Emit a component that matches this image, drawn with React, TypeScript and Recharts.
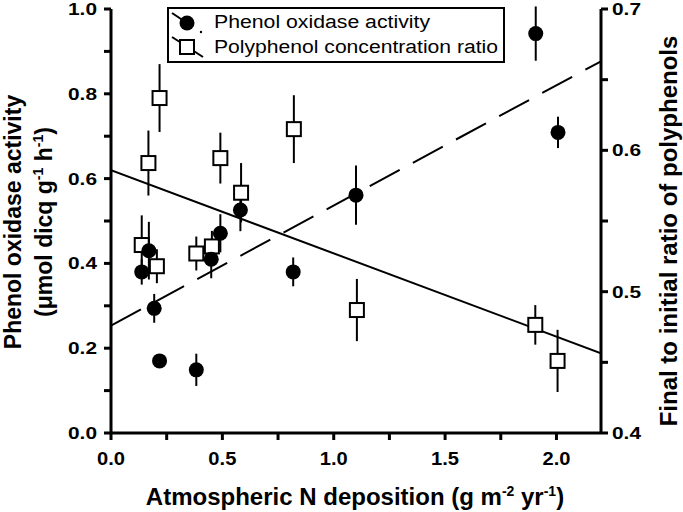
import React from 'react';
import { ComposedChart, Scatter, Line, XAxis, YAxis, ErrorBar, Legend } from 'recharts';

// Phenol oxidase activity (left axis)
const phenolDeposition = [0.138, 0.17, 0.194, 0.218, 0.383, 0.45, 0.491, 0.581, 0.818, 1.1, 1.907, 2.007];
const phenolActivity = [0.38, 0.43, 0.294, 0.17, 0.149, 0.41, 0.471, 0.526, 0.38, 0.561, 0.942, 0.709];
const phenolError = [0.03, 0.068, 0.034, 0.01, 0.038, 0.045, 0.045, 0.05, 0.034, 0.07, 0.064, 0.037];

// Polyphenol concentration ratio (right axis)
const polyDeposition = [0.138, 0.168, 0.206, 0.218, 0.383, 0.453, 0.491, 0.584, 0.821, 1.104, 1.905, 2.005];
const polyRatio = [0.533, 0.591, 0.518, 0.637, 0.527, 0.532, 0.5945, 0.57, 0.615, 0.487, 0.4765, 0.451];
const polyError = [0.021, 0.023, 0.012, 0.024, 0.012, 0.011, 0.018, 0.021, 0.024, 0.022, 0.014, 0.022];

// Regression lines
const phenolFitX = [0, 2.2];
const phenolFitY = [0.62, 0.188];
const polyFitX = [0, 2.2];
const polyFitY = [0.476, 0.663];

// Ticks
const xTicks = [0, 0.25, 0.5, 0.75, 1.0, 1.25, 1.5, 1.75, 2.0];
const xTickLabels = ['0.0', '', '0.5', '', '1.0', '', '1.5', '', '2.0'];
const leftTicks = [0, 0.1, 0.2, 0.3, 0.4, 0.5, 0.6, 0.7, 0.8, 0.9, 1.0];
const leftTickLabels = ['0.0', '', '0.2', '', '0.4', '', '0.6', '', '0.8', '', '1.0'];
const rightTicks = [0.4, 0.45, 0.5, 0.55, 0.6, 0.65, 0.7];
const rightTickLabels = ['0.4', '', '0.5', '', '0.6', '', '0.7'];

const legendLabels = ['Phenol oxidase activity', 'Polyphenol concentration ratio'];

const FONT = "'Liberation Sans', Arial, Helvetica, sans-serif";

const phenolData = phenolDeposition.map((x, i) => ({ x, y: phenolActivity[i], err: phenolError[i] }));
const polyData = polyDeposition.map((x, i) => ({ x, y: polyRatio[i], err: polyError[i] }));
const phenolFit = phenolFitX.map((x, i) => ({ x, y: phenolFitY[i] }));
const polyFit = polyFitX.map((x, i) => ({ x, y: polyFitY[i] }));

const XTick = (props: any) => {
  const label = xTickLabels[props.index];
  if (!label) return <g />;
  return (
    <text x={props.x} y={props.y} dy={23} textAnchor="middle" fontFamily={FONT} fontWeight="bold" fontSize={18}
      fill="#000" textLength={28} lengthAdjust="spacingAndGlyphs">{label}</text>
  );
};

const LeftTick = (props: any) => {
  const label = leftTickLabels[props.index];
  if (!label) return <g />;
  return (
    <text x={props.x} y={props.y} dy={6} textAnchor="end" fontFamily={FONT} fontWeight="bold" fontSize={17}
      fill="#000" textLength={29} lengthAdjust="spacingAndGlyphs">{label}</text>
  );
};

const RightTick = (props: any) => {
  const label = rightTickLabels[props.index];
  if (!label) return <g />;
  return (
    <text x={props.x} y={props.y} dy={6} textAnchor="start" fontFamily={FONT} fontWeight="bold" fontSize={17}
      fill="#000" textLength={29} lengthAdjust="spacingAndGlyphs">{label}</text>
  );
};

const XTitle = () => (
  <text x={355} y={505} textAnchor="middle" fontFamily={FONT} fontWeight="bold" fontSize={24} fill="#000">
    Atmospheric N deposition (g m<tspan dy={-9} fontSize={14}>-2</tspan>
    <tspan dy={9}> yr</tspan><tspan dy={-9} fontSize={14}>-1</tspan><tspan dy={9}>)</tspan>
  </text>
);

const LeftTitle = () => (
  <g>
    <text x={21} y={222} transform="rotate(-90, 21, 222)" textAnchor="middle" fontFamily={FONT} fontWeight="bold"
      fontSize={23} fill="#000">Phenol oxidase activity</text>
    <text x={52} y={222} transform="rotate(-90, 52, 222)" textAnchor="middle" fontFamily={FONT} fontWeight="bold"
      fontSize={23} fill="#000">
      (μmol dicq g<tspan dy={-9} fontSize={14}>-1</tspan><tspan dy={9}> h</tspan>
      <tspan dy={-9} fontSize={14}>-1</tspan><tspan dy={9}>)</tspan>
    </text>
  </g>
);

const RightTitle = () => (
  <text x={677} y={231} transform="rotate(-90, 677, 231)" textAnchor="middle" fontFamily={FONT} fontWeight="bold"
    fontSize={24} fill="#000">Final to initial ratio of polyphenols</text>
);

const LegendBox = () => (
  <svg width={338} height={56} style={{ display: 'block' }}>
    <rect x={1} y={1} width={336} height={54} fill="#fff" stroke="#000" strokeWidth={2} />
    <line x1={5} y1={6} x2={20} y2={16} stroke="#000" strokeWidth={2} />
    <circle cx={34} cy={25} r={1.2} fill="#000" />
    <circle cx={20} cy={16} r={7.5} fill="#000" />
    <text x={47} y={21} fontFamily={FONT} fontSize={18} fill="#000" textLength={216}
      lengthAdjust="spacingAndGlyphs">{legendLabels[0]}</text>
    <line x1={5} y1={30} x2={36} y2={50} stroke="#000" strokeWidth={2} />
    <rect x={13} y={33} width={14} height={14} fill="#fff" stroke="#000" strokeWidth={2} />
    <text x={47} y={46} fontFamily={FONT} fontSize={18} fill="#000" textLength={284}
      lengthAdjust="spacingAndGlyphs">{legendLabels[1]}</text>
  </svg>
);

const axisStroke = { stroke: '#000', strokeWidth: 3 };

export default function App() {
  return (
    <div style={{ position: 'absolute', left: 0, top: 0, background: '#fff' }}>
      <ComposedChart width={683} height={512} margin={{ top: 9, right: 0, bottom: 0, left: 0 }}>
        <XAxis type="number" dataKey="x" domain={[0, 2.2]} ticks={xTicks} interval={0} allowDataOverflow
          height={79} tickSize={7} tickMargin={2} axisLine={axisStroke} tickLine={axisStroke} tick={XTick}
          label={{ content: () => <XTitle /> }} />
        <YAxis yAxisId="left" type="number" domain={[0, 1]} ticks={leftTicks} interval={0} allowDataOverflow
          width={111} tickSize={7} tickMargin={7} axisLine={axisStroke} tickLine={axisStroke} tick={LeftTick}
          label={{ content: () => <LeftTitle /> }} />
        <YAxis yAxisId="right" orientation="right" type="number" domain={[0.4, 0.7]} ticks={rightTicks} interval={0}
          allowDataOverflow width={82} tickSize={7} tickMargin={4} axisLine={axisStroke} tickLine={axisStroke}
          tick={RightTick} label={{ content: () => <RightTitle /> }} />
        <Legend verticalAlign="middle" align="center" layout="horizontal"
          wrapperStyle={{ position: 'absolute', left: 167, top: 7, width: 338, height: 56 }}
          content={() => <LegendBox />} />
        <Line yAxisId="left" data={phenolFit} dataKey="y" stroke="#000" strokeWidth={2} dot={false}
          isAnimationActive={false} legendType="none" />
        <Line yAxisId="right" data={polyFit} dataKey="y" stroke="#000" strokeWidth={2} strokeDasharray="34 15"
          dot={false} isAnimationActive={false} legendType="none" />
        <Scatter yAxisId="right" data={polyData} dataKey="y" isAnimationActive={false}
          shape={(p: any) => <rect x={p.cx - 7} y={p.cy - 7} width={14} height={14} fill="#fff" stroke="#000" strokeWidth={2} />}>
          <ErrorBar dataKey="err" direction="y" width={0} stroke="#000" strokeWidth={2} />
        </Scatter>
        <Scatter yAxisId="left" data={phenolData} dataKey="y" isAnimationActive={false}
          shape={(p: any) => <circle cx={p.cx} cy={p.cy} r={7.5} fill="#000" />}>
          <ErrorBar dataKey="err" direction="y" width={0} stroke="#000" strokeWidth={2} />
        </Scatter>
      </ComposedChart>
    </div>
  );
}
